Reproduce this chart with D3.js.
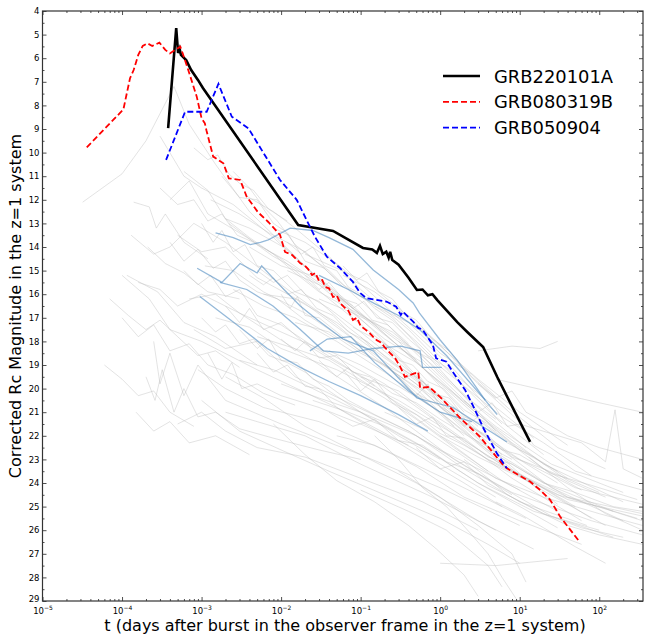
<!DOCTYPE html>
<html>
<head>
<meta charset="utf-8">
<script src="https://cdn.jsdelivr.net/npm/d3@7"></script>
<style>
  body { margin: 0; background: #fff; }
  text { font-family: "DejaVu Sans", sans-serif; }
</style>
</head>
<body>
<div id="chart"></div>
<script>
// [t in days, corrected Rc magnitude]
const grb220101A = [[3.8e-4,8.96],[4.8e-4,4.72],[5.07e-4,5.78],[5.3e-4,5.6],[5.5e-4,5.86],[6.4e-4,6.08],[7.4e-4,6.5],
  [9.0e-4,6.92],[1.04e-3,7.26],[0.0164,13.07],[0.045,13.32],[0.107,14.04],[0.14,14.1],[0.16,14.25],[0.175,13.95],
  [0.19,14.3],[0.21,14.2],[0.225,14.45],[0.235,14.2],[0.25,14.55],[0.3,14.75],[0.4,15.3],[0.51,15.82],[0.6,15.8],
  [0.7,16.05],[0.8,16.0],[0.92,16.25],[1.64,17.18],[2.19,17.6],[3.47,18.24],[5.2,19.5],[13.5,22.26]];

const grb080319B = [[3.6e-5,9.78],[1.04e-4,8.17],[1.26e-4,6.85],[1.4e-4,6.5],[1.6e-4,5.86],[1.82e-4,5.48],[2.08e-4,5.37],
  [2.4e-4,5.48],[2.95e-4,5.34],[3.5e-4,5.65],[4.0e-4,5.8],[4.8e-4,5.62],[5.4e-4,5.51],[5.8e-4,5.8],[6.8e-4,6.5],
  [8.7e-4,7.63],[1.0e-3,8.55],[1.1e-3,8.76],[1.15e-3,9.05],[1.4e-3,10.17],[1.88e-3,10.45],[2.2e-3,11.09],[3.05e-3,11.16],
  [3.7e-3,11.87],[5.1e-3,12.52],[6.9e-3,12.94],[9.7e-3,13.49],[0.0112,14.21],[0.0138,14.34],[0.0173,14.68],[0.02,14.8],
  [0.022,14.95],[0.0245,15.19],[0.027,15.1],[0.03,15.45],[0.033,15.4],[0.036,15.7],[0.04,15.75],[0.045,16.12],[0.05,16.05],
  [0.056,16.4],[0.062,16.55],[0.07,16.7],[0.08,17.09],[0.09,17.0],[0.1,17.35],[0.115,17.5],[0.13,17.65],[0.144,17.81],
  [0.16,17.95],[0.18,18.05],[0.2,18.24],[0.235,18.5],[0.27,18.7],[0.315,19.08],[0.36,19.5],[0.53,19.3],[0.56,19.97],
  [0.73,19.93],[1.0,20.36],[1.79,21.25],[3.18,22.05],[6.2,23.24],[6.9,23.38],[13.5,23.94],[18.1,24.3],[24.2,24.72],
  [32.3,25.43],[54.5,26.42]];

const grb050904 = [[3.58e-4,10.31],[6.2e-4,8.27],[1.16e-3,8.27],[1.63e-3,7.09],[2.4e-3,8.48],[3.88e-3,8.97],[9.7e-3,11.16],
  [0.0157,12.0],[0.023,13.14],[0.027,13.6],[0.0376,14.41],[0.055,14.89],[0.08,15.48],[0.0986,15.95],[0.118,16.17],
  [0.214,16.32],[0.28,16.53],[0.32,16.88],[0.34,16.74],[0.46,17.17],[0.53,17.43],[0.6,17.5],[0.81,18.15],[0.89,18.72],
  [1.2,18.86],[1.43,19.28],[2.06,20.06],[2.63,20.77],[3.5,21.68],[5.16,22.74],[6.9,23.38]];

// highlighted comparison bursts (light blue)
const blueCurves = [
  [[1.5e-3,13.4],[2.5e-3,13.6],[4.1e-3,13.9],[5.5e-3,13.8],[6.9e-3,13.7],[0.013,13.2],[0.025,13.3],[0.04,13.6],[0.08,14.1],
   [0.144,14.97],[0.3,15.8],[0.457,16.37],[0.55,16.8],[1.0,17.94],[1.64,18.8],[3.7,20.5],[5.2,21.1]],
  [[8.8e-4,14.9],[1.8e-3,15.5],[3.05e-3,14.7],[5e-3,15.1],[5.7e-3,14.8],[8.9e-3,15.5],[0.0174,16.5],[0.029,17.1],
   [0.06,17.9],[0.1,18.2],[0.144,18.4],[0.51,20.4],[1.45,20.8],[6.9,22.26]],
  [[9.5e-4,16.1],[3.05e-3,17.4],[6.7e-3,18.3],[0.0174,19.1],[0.04,19.7],[0.1,20.3],[0.3,21.1],[0.7,21.8]],
  [[1.7e-3,15.5],[3.7e-3,15.8],[7.9e-3,16.5],[0.0174,17.5],[0.034,18.4],[0.07,18.5],[0.144,18.3],[0.32,18.2],
   [0.56,18.4],[0.6,19.1],[1.05,19.1]],
  [[0.03,15.2],[0.07,15.8],[0.15,16.4],[0.3,16.9],[0.55,17.5],[1.2,18.6],[3.7,20.5]],
  [[0.023,18.4],[0.038,17.9],[0.075,17.8],[0.15,18.9],[0.4,20.1],[1.0,21.0],[2.5,21.4]]
];

// background sample of afterglow light curves (grey)
const grayCurves = [
  [[3.2e-5,12.1],[1.0e-4,10.9],[2.0e-4,9.5],[4.5e-4,7.2],[7e-4,8.8],[1.5e-3,10.5],[4e-3,12.5],[0.02,14.8],[0.1,16.9],[0.5,18.8]],
  [[1.3e-4,13.5],[2.5e-4,14.3],[4e-4,14.0],[8e-4,13.0],[2e-3,13.8],[0.01,15.6],[0.05,17.3],[0.3,19.5],[2,22.0]],
  [[1.6e-4,15.5],[3e-4,15.8],[5e-4,16.5],[1e-3,16.0],[3e-3,16.8],[0.02,18.6],[0.2,20.8],[1.5,23.0],[8,24.5]],
  [[1.0e-4,15.2],[2.2e-4,16.2],[4e-4,17.5],[1e-3,18.0],[5e-3,19.2],[0.05,20.8],[0.5,22.6],[5,24.6]],
  [[2.5e-4,18.0],[3e-4,19.8],[4e-4,18.5],[6e-4,20.3],[9e-4,19.0],[2e-3,20.5],[0.01,21.5],[0.1,22.8],[1,24.2],[10,25.8]],
  [[3e-4,9.3],[6e-4,11.0],[1e-3,11.5],[2.5e-3,12.2],[8e-3,13.6],[0.03,15.4],[0.15,17.6],[1,20.5],[6,22.8]],
  [[4e-4,12.0],[7e-4,11.2],[1.2e-3,12.6],[3e-3,13.4],[0.01,14.5],[0.04,16.2],[0.2,18.1],[1.2,20.9],[10,23.6],[80,25.5]],
  [[5e-4,13.5],[1e-3,14.2],[2e-3,14.0],[5e-3,15.3],[0.02,16.4],[0.08,17.9],[0.5,19.8],[3,22.3],[30,24.9]],
  [[6e-4,10.8],[1.2e-3,11.6],[2e-3,12.8],[4e-3,13.2],[0.012,14.1],[0.05,16.1],[0.3,18.0],[2,21.0]],
  [[7e-4,16.2],[1.5e-3,16.0],[3e-3,16.8],[0.01,17.6],[0.04,18.5],[0.2,19.8],[1,21.5],[8,23.8],[60,25.6]],
  [[8e-4,17.5],[2e-3,18.3],[5e-3,18.0],[0.015,19.5],[0.07,20.6],[0.4,21.8],[3,23.6],[25,25.4],[150,26.3]],
  [[9e-4,19.2],[2e-3,20.0],[6e-3,20.8],[0.03,21.4],[0.2,22.6],[1.5,24.0],[12,25.5]],
  [[1.1e-3,14.8],[2.5e-3,15.0],[6e-3,15.9],[0.02,16.8],[0.1,18.4],[0.6,20.1],[4,22.5],[40,24.6],[300,25.5]],
  [[1.3e-3,12.0],[3e-3,12.6],[7e-3,13.4],[0.02,14.2],[0.06,15.6],[0.25,17.0],[1,19.2],[5,21.8]],
  [[1.5e-3,17.0],[4e-3,17.4],[0.01,18.3],[0.05,19.2],[0.3,20.5],[2,22.2],[15,24.1],[120,25.8]],
  [[2e-3,21.0],[5e-3,21.4],[0.02,22.0],[0.1,23.2],[0.8,24.6],[5,26.0]],
  [[2.2e-3,13.0],[5e-3,13.9],[0.012,14.6],[0.04,15.8],[0.15,17.3],[0.7,19.3],[3,21.1],[20,23.2],[200,24.8]],
  [[2.5e-3,15.8],[6e-3,16.5],[0.015,17.0],[0.05,18.0],[0.2,19.3],[1,21.0],[6,23.2],[50,25.0]],
  [[3e-3,18.8],[8e-3,19.2],[0.025,20.0],[0.1,21.0],[0.5,22.3],[3,24.0],[30,25.9]],
  [[3.5e-3,11.8],[8e-3,12.5],[0.015,13.2],[0.04,14.4],[0.1,15.8],[0.4,17.5],[1.5,19.5],[6,21.5]],
  [[4e-3,14.0],[1e-2,14.8],[0.03,15.3],[0.08,16.5],[0.3,18.2],[1,19.8],[4,21.6],[20,23.4],[100,24.4]],
  [[5e-3,17.8],[0.012,18.2],[0.04,18.8],[0.15,20.0],[0.7,21.4],[4,23.0],[40,24.6],[350,25.3]],
  [[6e-3,16.0],[0.015,16.2],[0.05,17.2],[0.2,18.7],[1,20.4],[5,22.4],[30,24.0]],
  [[8e-3,13.2],[0.02,13.8],[0.05,14.7],[0.12,15.8],[0.4,17.4],[1.5,19.2],[5,21.2],[20,22.8]],
  [[0.01,19.8],[0.03,20.4],[0.1,21.0],[0.5,22.0],[2,23.4],[10,24.8],[70,25.8]],
  [[0.012,15.0],[0.03,15.6],[0.08,16.8],[0.25,17.6],[0.8,19.0],[3,20.8],[12,22.5]],
  [[0.015,17.2],[0.04,17.6],[0.1,18.5],[0.35,19.4],[1.2,20.8],[5,22.4],[25,24.2],[200,25.6]],
  [[0.02,14.3],[0.05,14.9],[0.12,15.5],[0.3,16.6],[0.9,18.0],[3,19.8],[10,21.4]],
  [[0.025,20.5],[0.07,21.0],[0.2,21.6],[0.7,22.6],[3,24.0],[15,25.2],[100,26.0]],
  [[0.03,16.2],[0.08,16.8],[0.2,17.9],[0.6,18.9],[2,20.6],[8,22.3],[40,23.8]],
  [[0.04,18.4],[0.1,19.0],[0.3,19.9],[1,21.0],[4,22.6],[20,24.0],[150,25.2]],
  [[0.05,22.0],[0.15,22.4],[0.5,23.3],[2,24.6],[10,25.6],[60,26.6]],
  [[0.06,15.2],[0.15,15.9],[0.4,17.0],[1,18.2],[3,19.6],[10,21.0],[40,22.4]],
  [[0.08,17.4],[0.2,18.1],[0.5,18.9],[1.5,20.2],[5,21.6],[25,23.2],[200,24.4]],
  [[0.1,19.5],[0.3,20.1],[0.8,21.2],[2.5,22.4],[8,23.5],[40,24.7],[350,25.4]],
  [[0.15,16.5],[0.4,17.2],[1,18.5],[2.5,19.4],[7,20.8],[30,22.5],[120,23.4]],
  [[0.2,21.0],[0.6,21.7],[1.5,22.6],[5,23.8],[20,24.6],[100,25.3],[350,25.8]],
  [[0.3,18.0],[0.8,18.8],[2,19.9],[6,21.2],[20,22.3],[80,23.7]],
  [[0.5,20.2],[1.2,20.9],[3,21.8],[10,23.0],[50,24.2],[350,24.9]],
  [[1,22.0],[3,22.9],[8,23.6],[30,24.5],[120,25.1],[350,25.6]],
  [[1e-3,20.5],[3e-3,21.8],[0.01,22.6],[0.04,23.5],[0.2,24.5],[1,25.5],[4,26.6],[10,27.4]],
  [[2e-3,19.5],[6e-3,20.4],[0.02,21.6],[0.1,22.8],[0.5,24.0],[3,25.6],[15,26.8]],
  [[0.3,23.5],[1,24.6],[3,25.8],[8,27.0],[12,28.2]],
  [[0.1,24.3],[0.4,25.2],[1.2,26.0],[4,27.5],[6,28.4]],
  [[1,27.4],[5,27.5],[20,27.3],[40,27.2]],
  [[13,22.9],[40,24.2],[120,25.3],[350,26.0]],
  [[3,18.4],[8,18.2],[18,18.3],[30,18.0]],
  [[10,21.5],[60,22.3],[120,23.1],[158,20.9],[200,23.4],[350,23.8]],
  [[5,19.6],[30,20.2],[100,20.6],[350,21.0]],
  [[2e-3,16.5],[3e-3,17.2],[4e-3,16.6],[6e-3,17.5],[0.01,17.2],[0.02,18.1],[0.05,18.9],[0.12,19.6],[0.3,20.7],[1,22.0],[4,23.5]],
  [[5e-4,21.5],[1e-3,21.0],[2e-3,21.8],[5e-3,22.5],[0.02,22.9],[0.1,23.8],[0.6,24.8],[3,26.0]],
  [[1.2e-3,18.5],[1.8e-3,19.6],[2.4e-3,18.9],[3.2e-3,20.0],[5e-3,19.8],[0.01,20.3],[0.03,20.8],[0.1,21.5],[0.4,22.4]],
  [[0.01,16.0],[0.013,16.6],[0.016,16.1],[0.02,16.9],[0.03,17.0],[0.05,17.6],[0.09,18.3],[0.2,19.0],[0.5,20.0],[1.5,21.6]],
  [[0.03,18.8],[0.05,19.5],[0.07,19.1],[0.1,19.8],[0.2,20.4],[0.5,21.3],[1.5,22.5],[6,23.9],[30,25.2]],
  [[0.005,15.0],[0.008,15.5],[0.012,15.2],[0.02,16.0],[0.04,16.6],[0.1,17.6],[0.3,18.9],[1,20.3],[3,21.6]],
  [[0.002,12.8],[0.004,13.6],[0.008,14.3],[0.015,15.1],[0.03,15.9],[0.07,16.6],[0.15,17.2],[0.4,18.2],[1,19.5],[2.5,20.8]],
  [[0.06,19.2],[0.1,20.1],[0.15,19.6],[0.25,20.6],[0.5,21.1],[1,21.9],[2,22.4],[5,23.2],[15,24.0]],
  [[0.3,19.5],[0.5,20.3],[0.7,19.8],[1,20.8],[2,21.5],[4,22.0],[8,22.9],[20,23.4],[60,24.3]],
  [[1.5,21.0],[2,21.6],[3,21.2],[4,22.1],[6,22.6],[10,22.8],[25,23.6],[80,24.1],[300,24.7]],
  [[2,23.0],[4,23.8],[7,24.5],[15,25.1],[40,25.8],[100,26.2],[350,26.6]],
  [[5,24.8],[10,25.3],[20,25.9],[50,26.7],[120,27.4]],
  [[1.5e-4,21.0],[2.5e-4,21.8],[4e-4,21.4],[7e-4,22.3],[1.5e-3,22.0],[4e-3,22.8]],
  [[1.15e-4,15.2],[2.8e-4,15.9],[6e-4,17.2],[1.5e-3,17.8],[5e-3,19.0]],
  [[1.4e-4,12.1],[2.2e-4,12.3],[2.7e-4,13.2],[3.5e-4,12.6],[6e-4,13.8],[1.2e-3,14.5]],
  [[2.1e-4,14.0],[3.5e-4,14.7],[6e-4,15.1],[1.2e-3,15.9],[3e-3,16.2]],
  [[1e-3,13.0],[1.4e-3,13.8],[1.8e-3,13.3],[2.5e-3,14.2],[3.5e-3,13.9],[5e-3,14.8],[8e-3,15.0],[0.015,15.9],[0.03,16.3],[0.07,17.4],[0.2,18.6],[0.6,19.8]],
  [[6e-4,15.0],[9e-4,15.6],[1.3e-3,15.2],[2e-3,16.1],[3e-3,15.8],[5e-3,16.9],[0.01,17.3],[0.025,18.2],[0.06,19.0],[0.15,19.9]],
  [[2.5e-3,10.8],[4e-3,11.5],[6e-3,12.3],[9e-3,12.9],[0.015,13.9],[0.025,14.5],[0.04,15.0],[0.08,16.0],[0.15,16.8],[0.4,18.1]],
  [[1.8e-3,11.0],[3e-3,11.9],[5e-3,12.0],[8e-3,13.0],[0.012,13.4],[0.02,14.6],[0.035,14.9],[0.06,15.7]],
  [[4e-3,15.2],[6e-3,15.6],[8e-3,15.3],[0.012,16.0],[0.018,15.8],[0.028,16.6],[0.045,16.9],[0.07,17.6],[0.12,18.0],[0.25,18.9],[0.6,19.7],[1.5,20.9]],
  [[0.01,17.9],[0.015,18.4],[0.02,18.0],[0.03,18.7],[0.05,18.6],[0.08,19.3],[0.13,19.5],[0.25,20.2],[0.5,20.6],[1,21.3],[2.5,22.1],[8,23.0]],
  [[0.02,15.2],[0.03,15.8],[0.04,15.5],[0.06,16.2],[0.09,16.4],[0.14,17.1],[0.22,17.3],[0.35,18.0],[0.6,18.6],[1,19.4],[2,20.3],[5,21.3]],
  [[0.05,16.0],[0.08,16.6],[0.11,16.3],[0.16,17.0],[0.25,17.2],[0.4,17.9],[0.7,18.6],[1.2,19.1],[2.5,20.0],[6,21.0],[15,22.1]],
  [[0.1,17.8],[0.15,18.4],[0.2,18.1],[0.3,18.8],[0.45,19.0],[0.7,19.7],[1.1,20.0],[2,20.9],[4,21.5],[10,22.6],[30,23.5]],
  [[0.2,19.0],[0.35,19.6],[0.5,19.3],[0.8,20.2],[1.3,20.4],[2,21.2],[3.5,21.5],[7,22.3],[15,22.9],[40,23.9],[120,24.6]],
  [[1e-4,17.0],[1.6e-4,17.8],[2.5e-4,17.3],[4e-4,18.4],[7e-4,18.1],[1.2e-3,19.0],[2.5e-3,19.4],[6e-3,20.2],[0.015,20.7]],
  [[2e-4,19.5],[2.6e-4,20.5],[3.2e-4,19.2],[4.5e-4,21.0],[6e-4,20.0],[9e-4,21.2],[1.5e-3,21.0],[3e-3,21.7],[8e-3,22.1],[0.03,22.6],[0.1,23.0]],
  [[7e-5,16.2],[1.2e-4,16.9],[2e-4,17.5],[3e-4,17.1],[5e-4,17.8],[9e-4,18.6],[1.5e-3,18.4],[3e-3,19.1]],
  [[3e-4,11.5],[5e-4,12.2],[8e-4,12.0],[1.2e-3,12.9],[1.8e-3,12.6],[2.8e-3,13.5],[4.5e-3,13.8],[8e-3,14.4],[0.015,14.9],[0.03,15.6],[0.08,16.5]],
  [[8e-4,9.8],[1.2e-3,10.3],[1.6e-3,10.1],[2.2e-3,10.9],[3e-3,11.3],[4.5e-3,11.6],[7e-3,12.4],[0.012,12.9]],
  [[0.003,17.5],[0.005,18.3],[0.007,17.9],[0.01,18.8],[0.016,18.9],[0.025,19.6],[0.04,19.9],[0.07,20.5],[0.15,21.1],[0.4,21.8],[1,22.6],[3,23.4],[10,24.3]],
  [[0.04,21.0],[0.08,21.6],[0.15,21.3],[0.3,22.2],[0.6,22.4],[1.2,23.1],[3,23.6],[8,24.4],[25,25.0],[80,25.6],[350,26.2]],
  [[0.5,22.5],[1,23.4],[2,23.1],[4,24.1],[8,24.6],[20,25.3],[60,25.9],[200,26.3]],
  [[3,19.8],[5,20.4],[8,20.1],[12,21.0],[20,21.4],[40,22.0],[100,22.5],[350,23.0]],
  [[0.008,21.5],[0.02,22.8],[0.05,23.9],[0.15,24.8],[0.4,25.8],[0.9,26.8],[2,27.9],[3,28.8]],
  [[0.15,22.0],[0.3,23.0],[0.6,24.2],[1.2,25.0],[2.5,26.2],[4,27.0],[6,28.0],[9,28.9]],
  [[5e-3,18.5],[8e-3,19.3],[0.012,19.0],[0.02,19.9],[0.03,20.0],[0.05,20.8],[0.1,21.4],[0.3,22.3],[0.8,23.2],[2,24.0],[6,25.0]],
  [[0.012,13.8],[0.018,14.3],[0.025,14.0],[0.035,14.8],[0.05,15.0],[0.07,15.7],[0.1,16.0],[0.15,16.6],[0.25,17.1],[0.5,18.0],[1,19.0]],
  [[0.06,14.8],[0.09,15.4],[0.12,15.1],[0.17,15.9],[0.25,16.2],[0.35,16.8],[0.5,17.1],[0.8,17.9],[1.3,18.4],[2.5,19.5],[5,20.4]],
  [[1e-3,17.0],[1.5e-3,17.6],[2e-3,17.3],[3e-3,18.1],[4.5e-3,17.9],[7e-3,18.6],[0.012,18.9],[0.02,19.3],[0.04,20.1],[0.1,21.0],[0.3,22.0],[1,23.0]],
  [[4e-4,13.8],[6e-4,14.6],[9e-4,14.1],[1.4e-3,14.9],[2e-3,14.6],[3e-3,15.4],[5e-3,15.9],[9e-3,16.2],[0.02,17.1],[0.05,17.9]],
  [[0.3,20.8],[0.5,21.5],[0.8,21.2],[1.2,22.0],[2,22.1],[4,22.9],[8,23.2],[20,24.0],[50,24.4],[150,25.0],[350,25.2]],
  [[2,20.5],[3,21.0],[4.5,20.6],[7,21.6],[10,21.5],[15,22.4],[25,22.8],[50,23.5],[100,23.8],[350,24.3]],
  [[6e-5,19.0],[1e-4,19.6],[1.6e-4,20.3],[2.5e-4,20.1],[4e-4,21.0],[8e-4,21.6]]
];

const legendNames = ['GRB220101A', 'GRB080319B', 'GRB050904'];
const yTickValues = [4,5,6,7,8,9,10,11,12,13,14,15,16,17,18,19,20,21,22,23,24,25,26,27,28,29];
const xTickExponents = [-5,-4,-3,-2,-1,0,1,2];

const W = 647, H = 635;
const mLeft = 42.5, mRight = 643, mTop = 11, mBottom = 601;

const svg = d3.select('#chart').append('svg')
  .attr('width', W).attr('height', H);

const x = d3.scaleLog().domain([1e-5, 355]).range([mLeft, mRight]);
const y = d3.scaleLinear().domain([4, 29]).range([mTop, mBottom]);

svg.append('clipPath').attr('id', 'clip')
  .append('rect').attr('x', mLeft).attr('y', mTop)
  .attr('width', mRight - mLeft).attr('height', mBottom - mTop);

const line = d3.line().x(d => x(d[0])).y(d => y(d[1]));
const plot = svg.append('g').attr('clip-path', 'url(#clip)');

plot.selectAll('.gray').data(grayCurves).enter().append('path')
  .attr('d', line).attr('fill', 'none')
  .attr('stroke', '#bcbcbc').attr('stroke-opacity', 0.55).attr('stroke-width', 0.75);

plot.selectAll('.lblue').data(blueCurves).enter().append('path')
  .attr('d', line).attr('fill', 'none')
  .attr('stroke', '#4f8bc0').attr('stroke-opacity', 0.6).attr('stroke-width', 1.3);

const mainSeries = [
  {data: grb220101A, color: '#000', width: 2.6, dash: null},
  {data: grb080319B, color: '#ff0000', width: 1.8, dash: '6,3'},
  {data: grb050904, color: '#0000ff', width: 1.8, dash: '6,3'}
];
mainSeries.forEach(s => {
  plot.append('path').datum(s.data).attr('d', line).attr('fill', 'none')
    .attr('stroke', s.color).attr('stroke-width', s.width)
    .attr('stroke-dasharray', s.dash);
});

// axes, ticks pointing inward on all four sides
const minorX = [];
xTickExponents.forEach(e => { for (let k = 2; k <= 9; k++) minorX.push(k * Math.pow(10, e)); });
const minorXv = minorX.filter(v => v <= 355);
const majorX = xTickExponents.map(e => Math.pow(10, e));
const minorY = yTickValues.slice(0, -1).map(v => v + 0.5);

function styleAxis(g) {
  g.selectAll('.domain').remove();
  g.selectAll('line').attr('stroke', '#222').attr('stroke-width', 0.8);
}

const xb = svg.append('g').attr('transform', `translate(0,${mBottom})`)
  .call(d3.axisBottom(x).tickValues(majorX).tickSize(-4).tickPadding(3).tickFormat(''));
styleAxis(xb);
xb.selectAll('.tick').each(function(d, i) {
  const e = xTickExponents[i];
  const t = d3.select(this).append('text').attr('fill', '#000')
    .attr('y', 12.5).attr('text-anchor', 'middle').attr('font-size', 8.5);
  t.append('tspan').text('10');
  t.append('tspan').attr('dy', -3.5).attr('font-size', 6).text((e < 0 ? '\u2212' : '') + Math.abs(e));
});
styleAxis(svg.append('g').attr('transform', `translate(0,${mBottom})`)
  .call(d3.axisBottom(x).tickValues(minorXv).tickSize(-2).tickFormat('')));
styleAxis(svg.append('g').attr('transform', `translate(0,${mTop})`)
  .call(d3.axisTop(x).tickValues(majorX).tickSize(-4).tickFormat('')));
styleAxis(svg.append('g').attr('transform', `translate(0,${mTop})`)
  .call(d3.axisTop(x).tickValues(minorXv).tickSize(-2).tickFormat('')));

const yl = svg.append('g').attr('transform', `translate(${mLeft},0)`)
  .call(d3.axisLeft(y).tickValues(yTickValues).tickSize(-4).tickPadding(3).tickFormat(d3.format('d')));
styleAxis(yl);
yl.selectAll('text').attr('font-size', 8.5).attr('font-family', '"DejaVu Sans", sans-serif').attr('fill', '#000');
yl.selectAll('text').filter(d => d === 29).attr('dy', '0.1em');
styleAxis(svg.append('g').attr('transform', `translate(${mLeft},0)`)
  .call(d3.axisLeft(y).tickValues(minorY).tickSize(-2).tickFormat('')));
styleAxis(svg.append('g').attr('transform', `translate(${mRight},0)`)
  .call(d3.axisRight(y).tickValues(yTickValues).tickSize(-4).tickFormat('')));
styleAxis(svg.append('g').attr('transform', `translate(${mRight},0)`)
  .call(d3.axisRight(y).tickValues(minorY).tickSize(-2).tickFormat('')));

svg.append('rect').attr('x', mLeft).attr('y', mTop)
  .attr('width', mRight - mLeft).attr('height', mBottom - mTop)
  .attr('fill', 'none').attr('stroke', '#333').attr('stroke-width', 1.2);

// legend
const legend = svg.append('g').attr('transform', 'translate(443,76)');
mainSeries.forEach((s, i) => {
  const row = legend.append('g').attr('transform', `translate(0,${i * 25.8})`);
  row.append('line').attr('x1', 0).attr('x2', 37).attr('y1', 0).attr('y2', 0)
    .attr('stroke', s.color).attr('stroke-width', s.width).attr('stroke-dasharray', s.dash);
  row.append('text').attr('x', 51).attr('y', 6.5).attr('font-size', 17.9).text(legendNames[i]);
});

// axis labels
svg.append('text').attr('x', 345).attr('y', 631).attr('text-anchor', 'middle')
  .attr('font-size', 16).text('t (days after burst in the observer frame in the z=1 system)');
svg.append('text').attr('transform', 'rotate(-90)').attr('x', -306).attr('y', 21)
  .attr('text-anchor', 'middle').attr('font-size', 16).text('Corrected Rc Magnitude in the z=1 system');
</script>
</body>
</html>
